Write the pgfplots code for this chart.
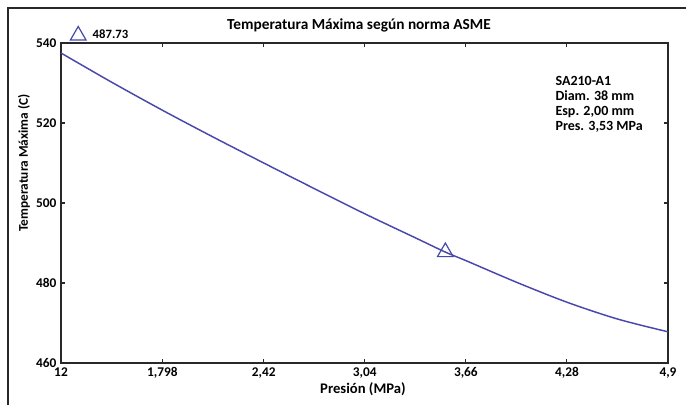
\documentclass[border=0pt]{standalone}
\usepackage{pgfplots}
\pgfplotsset{compat=1.18}
\usepackage{fontspec}
\setmainfont{Carlito}
\setsansfont{Carlito}

\definecolor{curveblue}{RGB}{72,72,172}
\definecolor{frameg}{RGB}{40,40,40}

\pgfplotstableread{
P T
1.176 537.5
1.487 530.2
1.798 523.2
2.109 516.5
2.420 510.0
2.730 503.6
3.040 497.3
3.350 491.3
3.534 487.73
3.660 485.6
3.970 480.2
4.280 475.2
4.590 471.0
4.900 467.8
}\tempdata

\begin{document}
\begin{tikzpicture}
% page = 686 x 405 px, 1px = 0.75pt
\path[use as bounding box] (0,0) rectangle (514.5pt,303.75pt);
\draw[frameg, line width=1.4pt] (6pt,0) -- (6pt,297.75pt) -- (514.5pt,297.75pt);
\begin{axis}[
    at={(45.75pt,31.5pt)}, anchor=south west,
    scale only axis,
    width=455.25pt, height=240pt,
    xmin=1.176, xmax=4.9,
    ymin=460, ymax=540,
    xtick={1.176,1.798,2.42,3.04,3.66,4.28,4.9},
    xticklabels={{12},{1,798},{2,42},{3,04},{3,66},{4,28},{4,9}},
    ytick={460,480,500,520,540},
    /pgf/number format/assume math mode=true,
    tick align=inside,
    major tick length=3pt,
    axis line style={frameg, line width=1.1pt},
    tick style={frameg, line width=0.8pt},
    every tick label/.style={font=\bfseries\fontsize{10}{11}\selectfont, text=black},
    every axis title shift=0pt,
    title={Temperatura Máxima según norma ASME},
    title style={font=\bfseries\fontsize{11.5}{13}\selectfont, at={(rel axis cs:0.491,1.056)}, anchor=center},
    xlabel={Presión (MPa)},
    xlabel style={font=\bfseries\fontsize{11}{12}\selectfont, at={(rel axis cs:0.4975,-0.081)}, anchor=center},
    ylabel={Temperatura Máxima (C)},
    ylabel style={font=\bfseries\fontsize{10}{12}\selectfont, at={(rel axis cs:-0.061,0.625)}, anchor=center, rotate=0},
    legend style={at={(rel axis cs:0.015,1.025)}, anchor=west, draw=none, fill=none,
        inner sep=0pt, column sep=3pt, font=\bfseries\fontsize{9.5}{10}\selectfont},
    legend cell align=left,
    clip=false,
]
\addplot[curveblue, line width=1.1pt, smooth, forget plot] table[x=P, y=T] {\tempdata};
\addplot[only marks, mark=triangle, mark size=6.8pt, curveblue, line width=0.9pt,
    mark options={fill=white}] coordinates {(3.534,487.73)};
\addlegendentry{487.73}
\node[anchor=north west, align=left, font=\bfseries\fontsize{10.5}{11.25}\selectfont]
    at (rel axis cs:0.807,0.91) {SA210-A1\\Diam. 38 mm\\Esp. 2,00 mm\\Pres. 3,53 MPa};
\end{axis}
\end{tikzpicture}
\end{document}
